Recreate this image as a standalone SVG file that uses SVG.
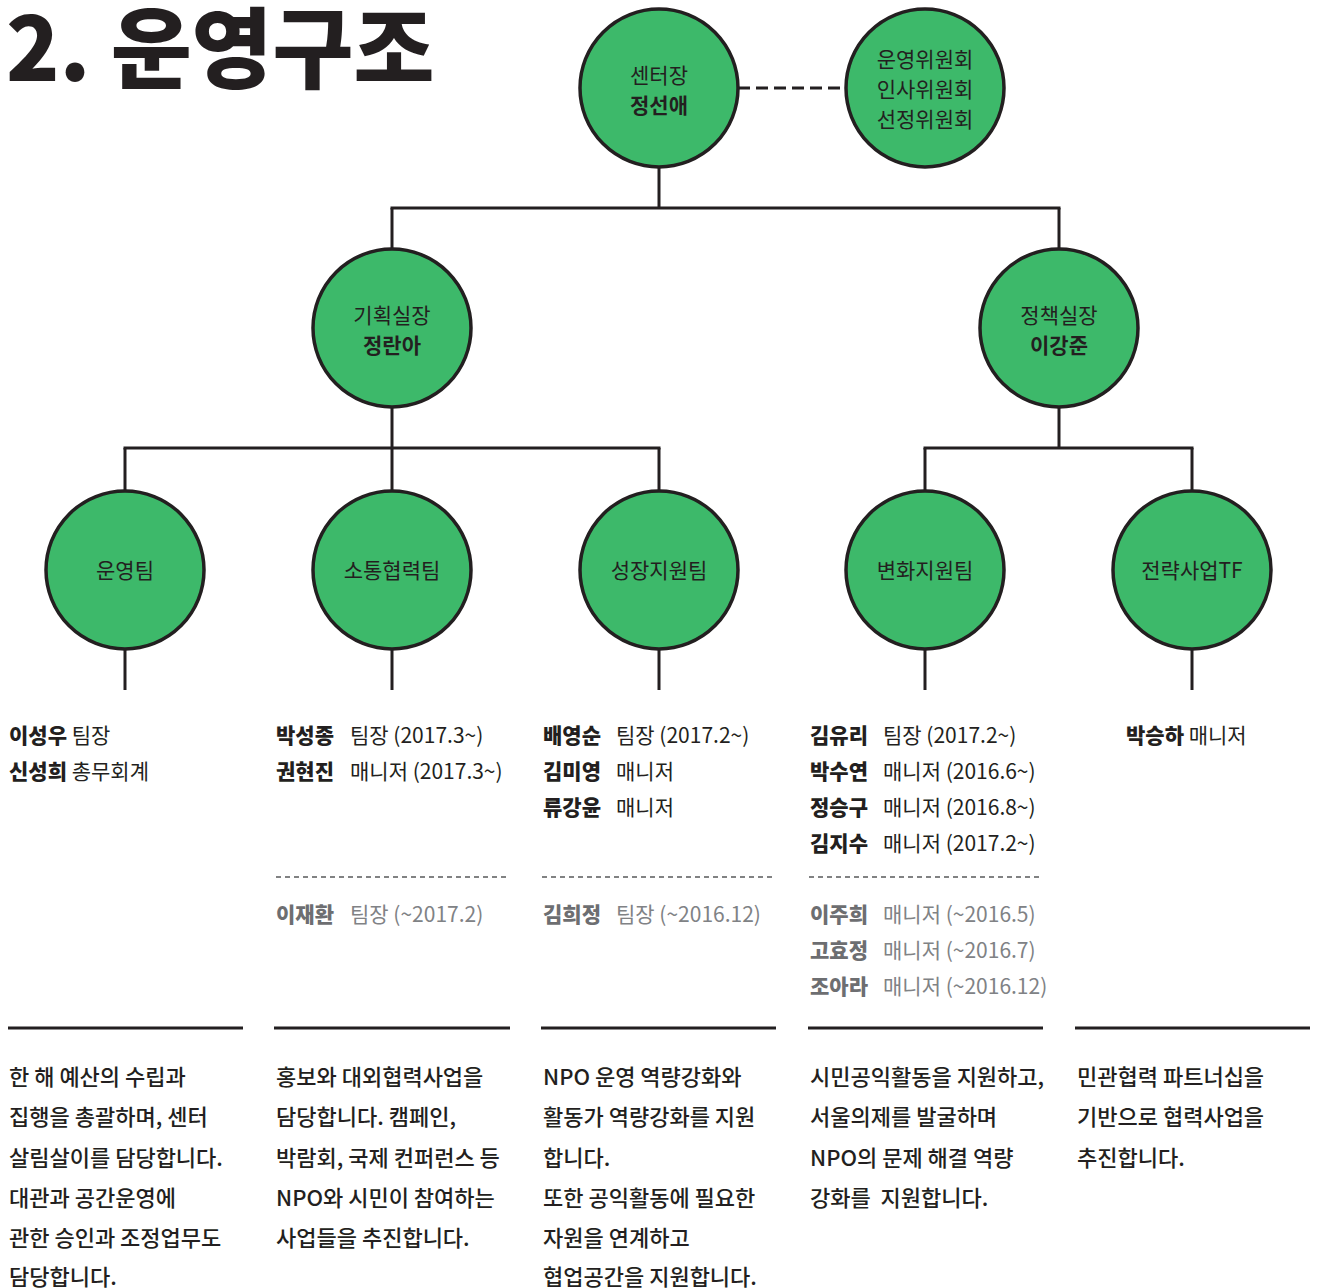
<svg xmlns="http://www.w3.org/2000/svg" width="1317" height="1288" viewBox="0 0 1317 1288">
<style>
text{font-family:"Noto Sans CJK KR","Noto Sans",sans-serif;fill:#231f20;dominant-baseline:central}
.node circle{fill:#3db96a;stroke:#231f20;stroke-width:3.5}
.nl{font-size:21px;text-anchor:middle}
.nb{font-size:21px;font-weight:bold;text-anchor:middle}
.conn line{stroke:#231f20;stroke-width:3}
.nm{font-size:21px;font-weight:900}
.rl{font-size:21px}
.pn{font-size:21px;font-weight:900;fill:#6d6e71}
.pr{font-size:21px;fill:#808285}
.dash{stroke:#58595b;stroke-width:1.5;stroke-dasharray:5 4}
.rule{stroke:#231f20;stroke-width:3}
.ds{font-size:22px;font-weight:500;white-space:pre}
</style>
<text x="6" y="42" style="font-size:88px;font-weight:900">2. 운영구조</text>
<g class="conn">
<line x1="738" y1="88" x2="846" y2="88" style="stroke-dasharray:12 6"/>
<line x1="659" y1="167" x2="659" y2="208"/>
<line x1="390.5" y1="208" x2="1060.5" y2="208"/>
<line x1="392" y1="208" x2="392" y2="249"/>
<line x1="1059" y1="208" x2="1059" y2="249"/>
<line x1="392" y1="407" x2="392" y2="491"/>
<line x1="1059" y1="407" x2="1059" y2="448"/>
<line x1="123.5" y1="448" x2="660.5" y2="448"/>
<line x1="923.5" y1="448" x2="1193.5" y2="448"/>
<line x1="125" y1="448" x2="125" y2="491"/>
<line x1="659" y1="448" x2="659" y2="491"/>
<line x1="925" y1="448" x2="925" y2="491"/>
<line x1="1192" y1="448" x2="1192" y2="491"/>
<line x1="125" y1="649" x2="125" y2="690"/>
<line x1="392" y1="649" x2="392" y2="690"/>
<line x1="659" y1="649" x2="659" y2="690"/>
<line x1="925" y1="649" x2="925" y2="690"/>
<line x1="1192" y1="649" x2="1192" y2="690"/>
</g>
<g id="n-center" class="node"><circle cx="659" cy="88" r="79"/><text class="nl" x="659" y="74">센터장</text><text class="nb" x="659" y="104">정선애</text></g>
<g id="n-committee" class="node"><circle cx="925" cy="88" r="79"/><text class="nl" x="925" y="58">운영위원회</text><text class="nl" x="925" y="88">인사위원회</text><text class="nl" x="925" y="118">선정위원회</text></g>
<g id="n-plan" class="node"><circle cx="392" cy="328" r="79"/><text class="nl" x="392" y="314">기획실장</text><text class="nb" x="392" y="344">정란아</text></g>
<g id="n-policy" class="node"><circle cx="1059" cy="328" r="79"/><text class="nl" x="1059" y="314">정책실장</text><text class="nb" x="1059" y="344">이강준</text></g>
<g id="n-team1" class="node"><circle cx="125" cy="570" r="79"/><text class="nl" x="125" y="569">운영팀</text></g>
<g id="n-team2" class="node"><circle cx="392" cy="570" r="79"/><text class="nl" x="392" y="569">소통협력팀</text></g>
<g id="n-team3" class="node"><circle cx="659" cy="570" r="79"/><text class="nl" x="659" y="569">성장지원팀</text></g>
<g id="n-team4" class="node"><circle cx="925" cy="570" r="79"/><text class="nl" x="925" y="569">변화지원팀</text></g>
<g id="n-team5" class="node"><circle cx="1192" cy="570" r="79"/><text class="nl" x="1192" y="569">전략사업TF</text></g>

<g id="staff1">
<text x="9" y="734"><tspan class="nm">이성우</tspan><tspan class="rl"> 팀장</tspan></text>
<text x="9" y="770"><tspan class="nm">신성희</tspan><tspan class="rl"> 총무회계</tspan></text>
</g>
<g id="staff2">
<text class="nm" x="276" y="734">박성종</text><text class="rl" x="350" y="734">팀장 (2017.3~)</text>
<text class="nm" x="276" y="770">권현진</text><text class="rl" x="350" y="770">매니저 (2017.3~)</text>
<line class="dash" x1="276" y1="877" x2="510" y2="877"/>
<text class="pn" x="276" y="913">이재환</text><text class="pr" x="350" y="913">팀장 (~2017.2)</text>
</g>
<g id="staff3">
<text class="nm" x="543" y="734">배영순</text><text class="rl" x="616" y="734">팀장 (2017.2~)</text>
<text class="nm" x="543" y="770">김미영</text><text class="rl" x="616" y="770">매니저</text>
<text class="nm" x="543" y="806">류강윤</text><text class="rl" x="616" y="806">매니저</text>
<line class="dash" x1="542" y1="877" x2="776" y2="877"/>
<text class="pn" x="543" y="913">김희정</text><text class="pr" x="616" y="913">팀장 (~2016.12)</text>
</g>
<g id="staff4">
<text class="nm" x="810" y="734">김유리</text><text class="rl" x="883" y="734">팀장 (2017.2~)</text>
<text class="nm" x="810" y="770">박수연</text><text class="rl" x="883" y="770">매니저 (2016.6~)</text>
<text class="nm" x="810" y="806">정승구</text><text class="rl" x="883" y="806">매니저 (2016.8~)</text>
<text class="nm" x="810" y="842">김지수</text><text class="rl" x="883" y="842">매니저 (2017.2~)</text>
<line class="dash" x1="809" y1="877" x2="1043" y2="877"/>
<text class="pn" x="810" y="913">이주희</text><text class="pr" x="883" y="913">매니저 (~2016.5)</text>
<text class="pn" x="810" y="949">고효정</text><text class="pr" x="883" y="949">매니저 (~2016.7)</text>
<text class="pn" x="810" y="985">조아라</text><text class="pr" x="883" y="985">매니저 (~2016.12)</text>
</g>
<g id="staff5">
<text x="1126" y="734"><tspan class="nm">박승하</tspan><tspan class="rl"> 매니저</tspan></text>
</g>

<g id="desc">
<line class="rule" x1="8" y1="1028" x2="243" y2="1028"/>
<line class="rule" x1="274" y1="1028" x2="510" y2="1028"/>
<line class="rule" x1="541" y1="1028" x2="776" y2="1028"/>
<line class="rule" x1="808" y1="1028" x2="1043" y2="1028"/>
<line class="rule" x1="1075" y1="1028" x2="1310" y2="1028"/>
<text class="ds" x="9" y="1075">한 해 예산의 수립과</text>
<text class="ds" x="9" y="1115">집행을 총괄하며, 센터</text>
<text class="ds" x="9" y="1156">살림살이를 담당합니다.</text>
<text class="ds" x="9" y="1196">대관과 공간운영에</text>
<text class="ds" x="9" y="1236">관한 승인과 조정업무도</text>
<text class="ds" x="9" y="1275">담당합니다.</text>
<text class="ds" x="276" y="1075">홍보와 대외협력사업을</text>
<text class="ds" x="276" y="1115">담당합니다. 캠페인,</text>
<text class="ds" x="276" y="1156">박람회, 국제 컨퍼런스 등</text>
<text class="ds" x="276" y="1196">NPO와 시민이 참여하는</text>
<text class="ds" x="276" y="1236">사업들을 추진합니다.</text>
<text class="ds" x="543" y="1075">NPO 운영 역량강화와</text>
<text class="ds" x="543" y="1115">활동가 역량강화를 지원</text>
<text class="ds" x="543" y="1156">합니다.</text>
<text class="ds" x="543" y="1196">또한 공익활동에 필요한</text>
<text class="ds" x="543" y="1236">자원을 연계하고</text>
<text class="ds" x="543" y="1275">협업공간을 지원합니다.</text>
<text class="ds" x="810" y="1075">시민공익활동을 지원하고,</text>
<text class="ds" x="810" y="1115">서울의제를 발굴하며</text>
<text class="ds" x="810" y="1156">NPO의 문제 해결 역량</text>
<text class="ds" x="810" y="1196">강화를  지원합니다.</text>
<text class="ds" x="1077" y="1075">민관협력 파트너십을</text>
<text class="ds" x="1077" y="1115">기반으로 협력사업을</text>
<text class="ds" x="1077" y="1156">추진합니다.</text>
</g>
</svg>
